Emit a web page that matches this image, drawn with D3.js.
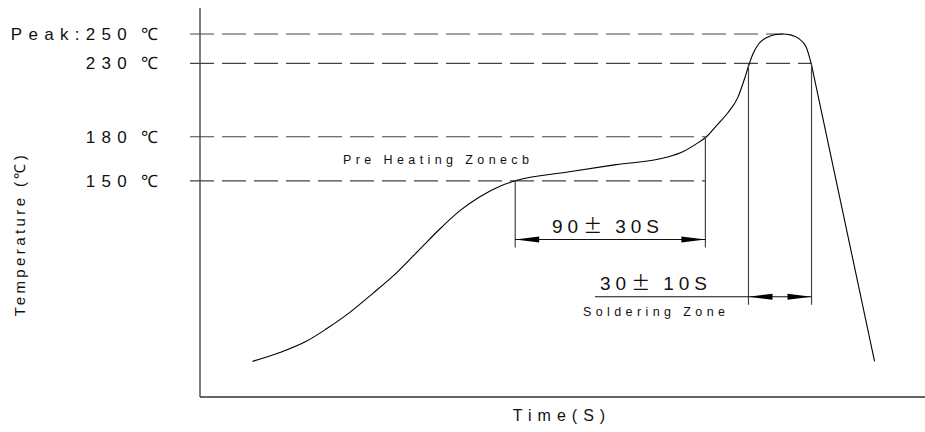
<!DOCTYPE html>
<html>
<head>
<meta charset="utf-8">
<script src="https://cdn.jsdelivr.net/npm/d3@7"></script>
<style>
  body { margin: 0; background: #fff; }
  text { font-family: "Liberation Sans", Arial, sans-serif; fill: #111; }
</style>
</head>
<body>
<div id="chart"></div>
<script>
const width = 925;
const height = 432;

// reflow profile: time (s) and temperature (°C)
const times = [25, 38, 51, 60, 71, 82, 94, 105, 114, 124, 133, 143, 150, 175, 198, 222, 230, 236, 241, 246, 251, 256, 259, 261, 263, 266, 270, 274, 277.5, 281, 285, 288.5, 291];
const temps = [27, 33, 41, 49, 60, 73, 88, 104, 117, 130, 139, 146.5, 150, 156, 161, 166, 170, 175, 180, 188, 196, 207, 219, 228, 236, 243.5, 247.8, 249.7, 250, 249.4, 246.8, 241, 229];
const coolTimes = [291, 321];
const coolTemps = [229, 27];

// reference temperatures and where their dashed lines stop
const refTemps = [250, 230, 180, 150];
const refLabels = ["Peak:250", "230", "180", "150"];
const refEnds = [277.5, 291, 240.5, 240.5];

// dimension zones
const zoneNames = ["preheat", "solder"];
const zoneStart = [150, 261];
const zoneEnd = [240.5, 291];
const zoneFrom = [150, 230];
const zoneTo = [180, 230];
const zoneLevel = [110, 71];
const zoneValue = ["90", "30"];
const zoneTol = ["30S", "10S"];

const svg = d3.select("#chart")
  .append("svg")
  .attr("width", width)
  .attr("height", height);

const x = d3.scaleLinear().domain([0, 345]).range([200, 925]);
const y = d3.scaleLinear().domain([0, 250]).range([401, 34]);
const axisBottomY = 397;

// axes
svg.append("line")
  .attr("x1", x(0)).attr("x2", x(0))
  .attr("y1", 8).attr("y2", axisBottomY)
  .attr("stroke", "#555").attr("stroke-width", 1.5);
svg.append("line")
  .attr("x1", x(0)).attr("x2", width)
  .attr("y1", axisBottomY).attr("y2", axisBottomY)
  .attr("stroke", "#333").attr("stroke-width", 1.5);

// dashed reference lines
svg.selectAll("line.ref")
  .data(refTemps)
  .enter()
  .append("line")
  .attr("class", "ref")
  .attr("x1", x(0) - 10)
  .attr("x2", (d, i) => x(refEnds[i]))
  .attr("y1", d => y(d))
  .attr("y2", d => y(d))
  .attr("stroke", "#444")
  .attr("stroke-width", 1.2)
  .attr("stroke-dasharray", "24,8");

// labels on the left
svg.selectAll("text.reflabel")
  .data(refTemps)
  .enter()
  .append("text")
  .attr("class", "reflabel")
  .attr("x", 133)
  .attr("y", d => y(d) + 6)
  .attr("text-anchor", "end")
  .style("font-size", "17px")
  .style("letter-spacing", "6.3px")
  .text((d, i) => refLabels[i]);

svg.selectAll("text.unit")
  .data(refTemps)
  .enter()
  .append("text")
  .attr("class", "unit")
  .attr("x", 141)
  .attr("y", d => y(d) + 6)
  .style("font-size", "17px")
  .text("\u2103");

// profile curve
svg.append("path")
  .datum(times.map((t, i) => [t, temps[i]]))
  .attr("d", d3.line().x(d => x(d[0])).y(d => y(d[1])).curve(d3.curveMonotoneX))
  .attr("fill", "none")
  .attr("stroke", "#000")
  .attr("stroke-width", 1.1);

svg.append("path")
  .datum(coolTimes.map((t, i) => [t, coolTemps[i]]))
  .attr("d", d3.line().x(d => x(d[0])).y(d => y(d[1])))
  .attr("fill", "none")
  .attr("stroke", "#000")
  .attr("stroke-width", 1.1);

// dimension lines
const arrow = (tipX, dir, yy) => {
  const len = 24, hw = 3;
  return `M${tipX},${yy}L${tipX + dir * len},${yy - hw}L${tipX + dir * len},${yy + hw}Z`;
};

zoneNames.forEach((name, i) => {
  const x0 = x(zoneStart[i]);
  const x1 = x(zoneEnd[i]);
  const yy = y(zoneLevel[i]);
  const g = svg.append("g").attr("class", name);

  g.append("line")
    .attr("x1", x0).attr("x2", x0)
    .attr("y1", y(zoneFrom[i])).attr("y2", yy + 8)
    .attr("stroke", "#444").attr("stroke-width", 1.2);
  g.append("line")
    .attr("x1", x1).attr("x2", x1)
    .attr("y1", y(zoneTo[i])).attr("y2", yy + 8)
    .attr("stroke", "#444").attr("stroke-width", 1.2);

  const lx0 = i === 0 ? x0 : 595;
  g.append("line")
    .attr("x1", lx0).attr("x2", x1)
    .attr("y1", yy).attr("y2", yy)
    .attr("stroke", "#111").attr("stroke-width", 1.2);

  g.append("path").attr("d", arrow(x0, 1, yy)).attr("fill", "#000");
  g.append("path").attr("d", arrow(x1, -1, yy)).attr("fill", "#000");

  const label = g.append("text")
    .attr("x", i === 0 ? 552 : 600)
    .attr("y", yy - 7)
    .style("font-size", "19px")
    .style("letter-spacing", "5px");
  label.append("tspan").text(zoneValue[i]);
  label.append("tspan")
    .style("font-family", "'Noto Sans CJK SC', sans-serif")
    .style("letter-spacing", "0px")
    .text("\u00b1");
  label.append("tspan").attr("dx", 13).text(zoneTol[i]);
});

svg.append("text")
  .attr("x", 583)
  .attr("y", y(71) + 19)
  .style("font-size", "12.5px")
  .style("letter-spacing", "4.4px")
  .text("Soldering Zone");

svg.append("text")
  .attr("x", 343)
  .attr("y", y(165) + 5)
  .style("font-size", "12.5px")
  .style("letter-spacing", "4.4px")
  .text("Pre Heating Zonecb");

// axis titles
svg.append("text")
  .attr("x", -234)
  .attr("y", 25)
  .attr("transform", "rotate(-90)")
  .attr("text-anchor", "middle")
  .style("font-size", "15px")
  .style("letter-spacing", "3.4px")
  .text("Temperature (\u2103)");

svg.append("text")
  .attr("x", 562)
  .attr("y", 421)
  .attr("text-anchor", "middle")
  .style("font-size", "16px")
  .style("letter-spacing", "6px")
  .text("Time(S)");
</script>
</body>
</html>
